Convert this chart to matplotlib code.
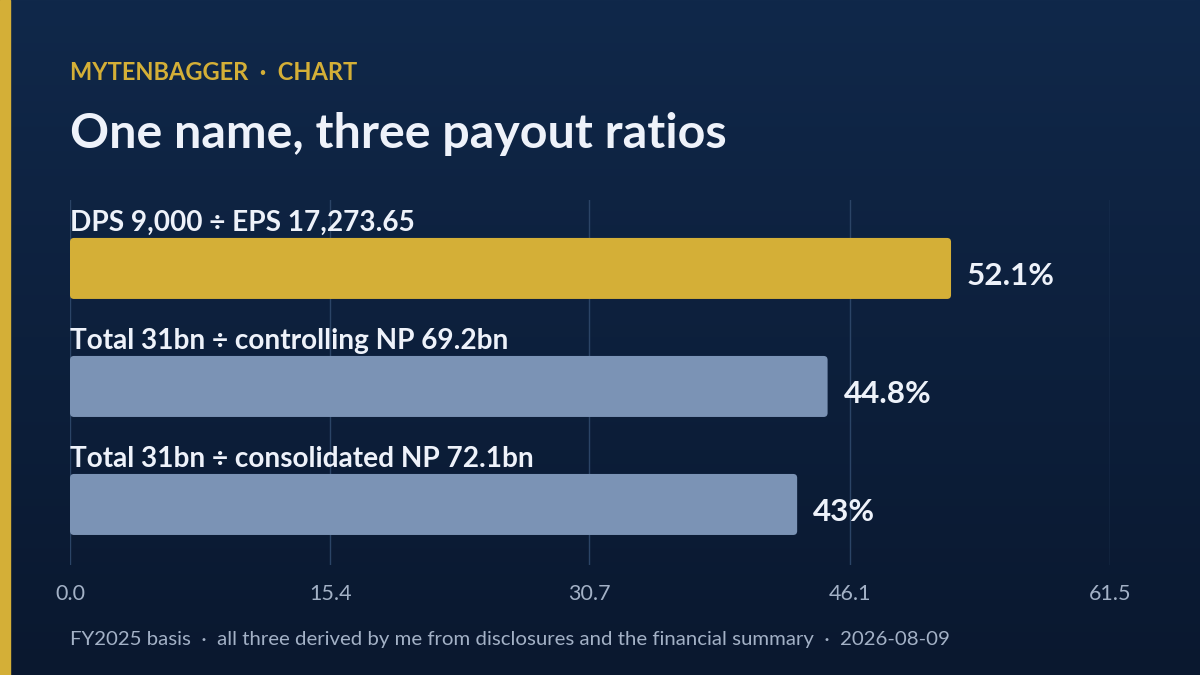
import numpy as np
import matplotlib.pyplot as plt
from matplotlib.patches import FancyBboxPatch, Rectangle

# dados do grafico
categorias = ['DPS 9,000 ÷ EPS 17,273.65',
              'Total 31bn ÷ controlling NP 69.2bn',
              'Total 31bn ÷ consolidated NP 72.1bn']
valores = [52.1, 44.8, 43.0]
rotulos = ['52.1%', '44.8%', '43%']
ticks = [0.0, 15.4, 30.7, 46.1, 61.5]
cores = ['#d4af37', '#7b93b5', '#7b93b5']

plt.rcParams['font.family'] = ['Lato', 'DejaVu Sans']

W, H = 1200, 675
fig = plt.figure(figsize=(12, 6.75), dpi=100)

# fundo em degrade
bg = fig.add_axes([0, 0, 1, 1])
grad = np.linspace(0, 1, 256).reshape(-1, 1)
top = np.array([0x10, 0x28, 0x4a]) / 255
bot = np.array([0x0a, 0x18, 0x2f]) / 255
img = top + (bot - top) * grad[:, :, None]
bg.imshow(img, aspect='auto', extent=[0, 1, 0, 1])
bg.add_patch(Rectangle((0, 0), 10 / W, 1, color='#d4af37'))
bg.set_xlim(0, 1)
bg.set_ylim(0, 1)
bg.axis('off')

fig.text(70 / W, 1 - 73 / H, 'MYTENBAGGER  ·  CHART', color='#d4af37',
         fontsize=17, fontweight='bold', va='center', ha='left')
fig.text(70 / W, 1 - 134 / H, 'One name, three payout ratios', color='#eef2fa',
         fontsize=34.8, fontweight='bold', va='center', ha='left')
fig.text(70 / W, 1 - 640 / H,
         'FY2025 basis  ·  all three derived by me from disclosures and the financial summary  ·  2026-08-09',
         color='#a3b1c6', fontsize=14.7, va='center', ha='left')

# eixo principal
ax = fig.add_axes([70 / W, 1 - 565 / H, 1040 / W, 365 / H])
ax.set_facecolor('none')
ax.set_xlim(0, ticks[-1])
ax.set_ylim(2.513, -0.58)
ax.set_xticks(ticks)
ax.set_xticklabels([f'{t:.1f}' for t in ticks])
ax.set_yticks([])
for s in ax.spines.values():
    s.set_visible(False)
ax.tick_params(axis='x', length=0, pad=14, labelsize=15.5, labelcolor='#a3b1c6')
ax.grid(axis='x', color='#2b4466', linewidth=1)
ax.set_axisbelow(True)

altura = 0.517
barras = ax.barh(range(len(valores)), valores, height=altura, color=cores)

# cantos arredondados
px_x = (1040 / ticks[-1])
px_y = 365 / (2.513 + 0.58)
r = 4 / px_x
for b, c in zip(barras, cores):
    b.set_visible(False)
    p = FancyBboxPatch((b.get_x(), b.get_y()), b.get_width(), b.get_height(),
                       boxstyle=f'round,pad=0,rounding_size={r}',
                       mutation_aspect=px_x / px_y, facecolor=c, edgecolor='none')
    ax.add_patch(p)

for i, (v, cat, lab) in enumerate(zip(valores, categorias, rotulos)):
    ax.text(0, i - altura / 2 - 0.02, cat, color='#eef2fa', fontsize=20.2,
            fontweight='bold', ha='left', va='bottom')
    ax.text(v + 16 / px_x, i + 0.06, lab, color='#eef2fa', fontsize=22.6,
            fontweight='bold', ha='left', va='center')

fig.savefig('out.png', dpi=100)
